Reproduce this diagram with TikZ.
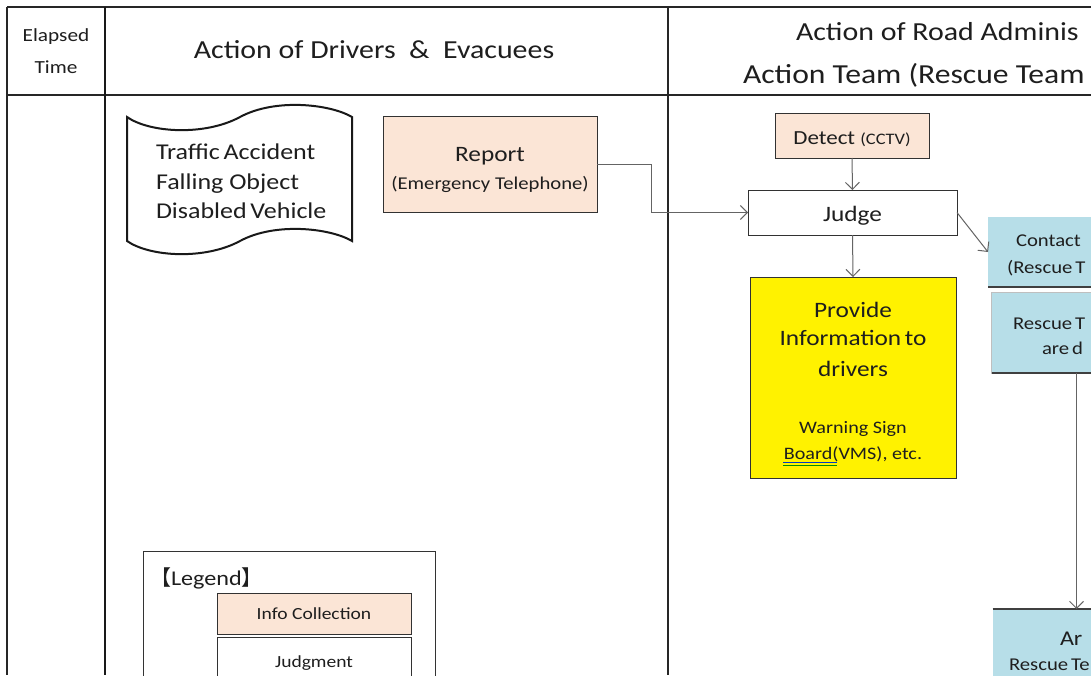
\documentclass[tikz,border=0pt]{standalone}
\usepackage{fontspec}
\setmainfont{Carlito}[FakeStretch=1.15]
\newfontfamily\cjkfont{Noto Sans CJK JP}
\usetikzlibrary{arrows.meta}
\definecolor{peach}{RGB}{251,229,214}
\definecolor{lblue}{RGB}{183,222,232}
\definecolor{arrgray}{RGB}{100,100,100}
\definecolor{txt}{RGB}{30,30,30}
\definecolor{boxline}{RGB}{50,50,50}
\newcommand{\fs}[2]{\fontsize{#1}{#2}\selectfont}
\begin{document}
\begin{tikzpicture}[x=1pt,y=-1pt,
  every node/.style={text=txt, inner sep=0pt, outer sep=0pt},
  grid/.style={line width=1.3pt, draw=black!85},
  thickgrid/.style={line width=2.6pt, draw=black!90},
  box/.style={draw=boxline, line width=0.9pt, rectangle, anchor=north west},
  bluebox/.style={fill=lblue, rectangle, anchor=north west},
  darkline/.style={draw=black!75, line width=1.4pt},
  arr/.style={draw=arrgray, line width=1pt, -{Straight Barb[length=7pt,width=14pt,line width=1pt]}},
]
\useasboundingbox (0,0) rectangle (1091,675);
\clip (0,0) rectangle (1091,675);
\fill[white] (0,0) rectangle (1091,675);

% table grid
\draw[grid] (7,7) -- (1091,7);
\draw[grid] (7,95) -- (1091,95);
\draw[grid] (7,7) -- (7,675);
\draw[grid] (668,7) -- (668,675);
\draw[thickgrid] (105,7) -- (105,675);

% header texts
\node[align=center, font=\fs{18.5}{32}] (elapsed) at (56,51) {Elapsed\\Time};
\node[font=\fs{26}{30}] (hdrdrv) at (374,50) {Action of Drivers \ \& \ Evacuees};
\node[anchor=west, font=\fs{26}{30}] (hdrroad) at (796,32) {Action of Road Adminis};
\node[anchor=west, font=\fs{27.5}{30}] (hdrteam) at (743,75) {Action Team (Rescue Team};

% punched tape shape
\draw[line width=2pt, draw=black!90, fill=white]
  (127,117) .. controls (150,133) and (205,136) .. (240,117)
            .. controls (275,98) and (330,104) .. (352,117)
  -- (352,241)
            .. controls (330,228) and (275,222) .. (240,241)
            .. controls (205,260) and (150,257) .. (127,241)
  -- cycle;
\node[anchor=west, align=left, font=\fs{22.6}{29.5}] (tapetext) at (156,181.5)
  {Traffic\,Accident\\Falling Object\\Disabled\,Vehicle};

% report
\node[box, fill=peach, minimum width=214pt, minimum height=96pt] (report) at (383,116) {};
\node[align=center, font=\fs{22}{28}] (reporttext) at (490,169.5)
  {Report\\{\fs{18}{18}(Emergency Telephone)}};

% detect
\node[box, fill=peach, minimum width=154pt, minimum height=45pt] (detect) at (775,113) {};
\node[font=\fs{20}{24}] (detecttext) at (852,139.5) {Detect {\fs{16}{16}(CCTV)}};

% judge
\node[box, fill=white, minimum width=209pt, minimum height=45pt] (judge) at (748,190) {};
\node[font=\fs{22}{24}] (judgetext) at (852.5,215.5) {Judge};

% provide information
\node[box, fill=yellow, minimum width=206pt, minimum height=201pt] (provide) at (750,277) {};
\node[align=center, font=\fs{22}{29.5}] (providetext) at (853,382.5)
  {Provide\\[-1.5pt]Information\,to\\[1.5pt]drivers\\[27.5pt]{\fs{17.5}{17.5}Warning Sign}\\[-3.5pt]{\fs{17.5}{17.5}Board(VMS), etc.}};
\draw[draw=blue!55!teal, line width=0.9pt] (783,462.5) -- (837,462.5);
\draw[draw=green!55!black, line width=0.9pt] (783,465) -- (837,465);

% blue boxes (cut off at right)
\node[bluebox, minimum width=200pt, minimum height=70pt] (contact) at (988,217) {};
\draw[darkline] (contact.south west) -- (contact.south east);
\node[anchor=west, font=\fs{18}{18}] (contactt1) at (1016,241) {Contact};
\node[anchor=west, font=\fs{18}{18}] (contactt2) at (1007,268) {(Rescue\,T};

\node[bluebox, draw=black!25, line width=0.6pt, minimum width=200pt, minimum height=81pt] (rescue) at (991.5,292) {};
\draw[darkline] (rescue.south west) -- (rescue.south east);
\node[anchor=west, font=\fs{18}{18}] (rescuet1) at (1013,324) {Rescue\,T};
\node[anchor=west, font=\fs{18}{18}] (rescuet2) at (1042,348) {are\,d};

\node[bluebox, minimum width=200pt, minimum height=100pt] (arrive) at (992.5,609) {};
\draw[darkline] (arrive.north west) -- (arrive.north east);
\node[anchor=west, font=\fs{21}{21}] (arrivet1) at (1060,639) {Ar};
\node[anchor=west, font=\fs{18}{18}] (arrivet2) at (1009,665) {Rescue\,Te};

% connectors
\coordinate (bend) at (651,0);
\coordinate (vx) at (1076.5,0);
\draw[arr] (report.east) -| (bend |- judge.west) -- (judge.west);
\draw[arr] (detect.south) -- (judge.north);
\draw[arr] (judge.south) -- (provide.north);
\draw[arr] (judge.east) -- (contact.west);
\draw[arr] (rescue.south -| vx) -- (arrive.north -| vx);

% legend
\node[draw=black!80, line width=1pt, rectangle, anchor=north west, minimum width=292pt, minimum height=200pt] (legend) at (143,551) {};
\node[anchor=west, font=\fs{21}{21}] (legendtitle) at (150,578) {{\cjkfont 【}Legend{\cjkfont 】}};
\node[box, fill=peach, minimum width=194pt, minimum height=41pt, font=\fs{17}{17}] (leginfo) at (217,593) {Info Collection};
\node[box, fill=white, minimum width=194pt, minimum height=48pt] (legjudge) at (217,637) {};
\node[font=\fs{17}{17}] (legjudgetext) at (314,663) {Judgment};
\end{tikzpicture}
\end{document}
